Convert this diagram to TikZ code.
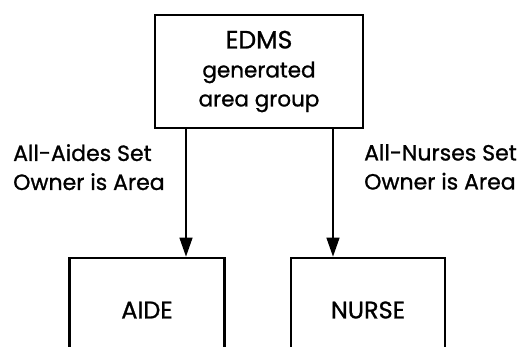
\documentclass[tikz,border=0pt]{standalone}
\usepackage{fontspec}
\setmainfont{Poppins}[FakeBold=1.0]
\usetikzlibrary{arrows.meta}
\begin{document}
\begin{tikzpicture}[x=1pt,y=-1pt,
  box/.style={draw, line width=2.8pt, inner sep=0pt},
  lbl/.style={align=left, font=\fontsize{22}{29}\selectfont, inner sep=0pt, anchor=north west},
  arr/.style={line width=1.4pt, -{Triangle[length=19pt,width=13pt]}}]
\useasboundingbox (0,0) rectangle (531,346);
\clip (0,0) rectangle (531,346);
\node[box, minimum width=208pt, minimum height=113pt, align=center,
  font=\fontsize{21.5}{29}\selectfont] (top) at (259,71.5) {{\fontsize{25}{29}\selectfont EDMS}\\generated\\area group};
\node[box, minimum width=155pt, minimum height=104pt] (aide) at (147,310) {\fontsize{24}{26}\selectfont AIDE};
\node[box, minimum width=154pt, minimum height=104pt] (nurse) at (368,310) {\fontsize{24}{26}\selectfont NURSE};
\coordinate (a1) at (186,128);
\coordinate (a2) at (333,128);
\draw[arr] (a1 |- top.south) -- (a1 |- aide.north);
\draw[arr] (a2 |- top.south) -- (a2 |- nurse.north);
\node[lbl] (l1) at (13,144) {All-Aides Set\\Owner is Area};
\node[lbl] (l2) at (364,144) {All-Nurses Set\\Owner is Area};
\end{tikzpicture}
\end{document}
